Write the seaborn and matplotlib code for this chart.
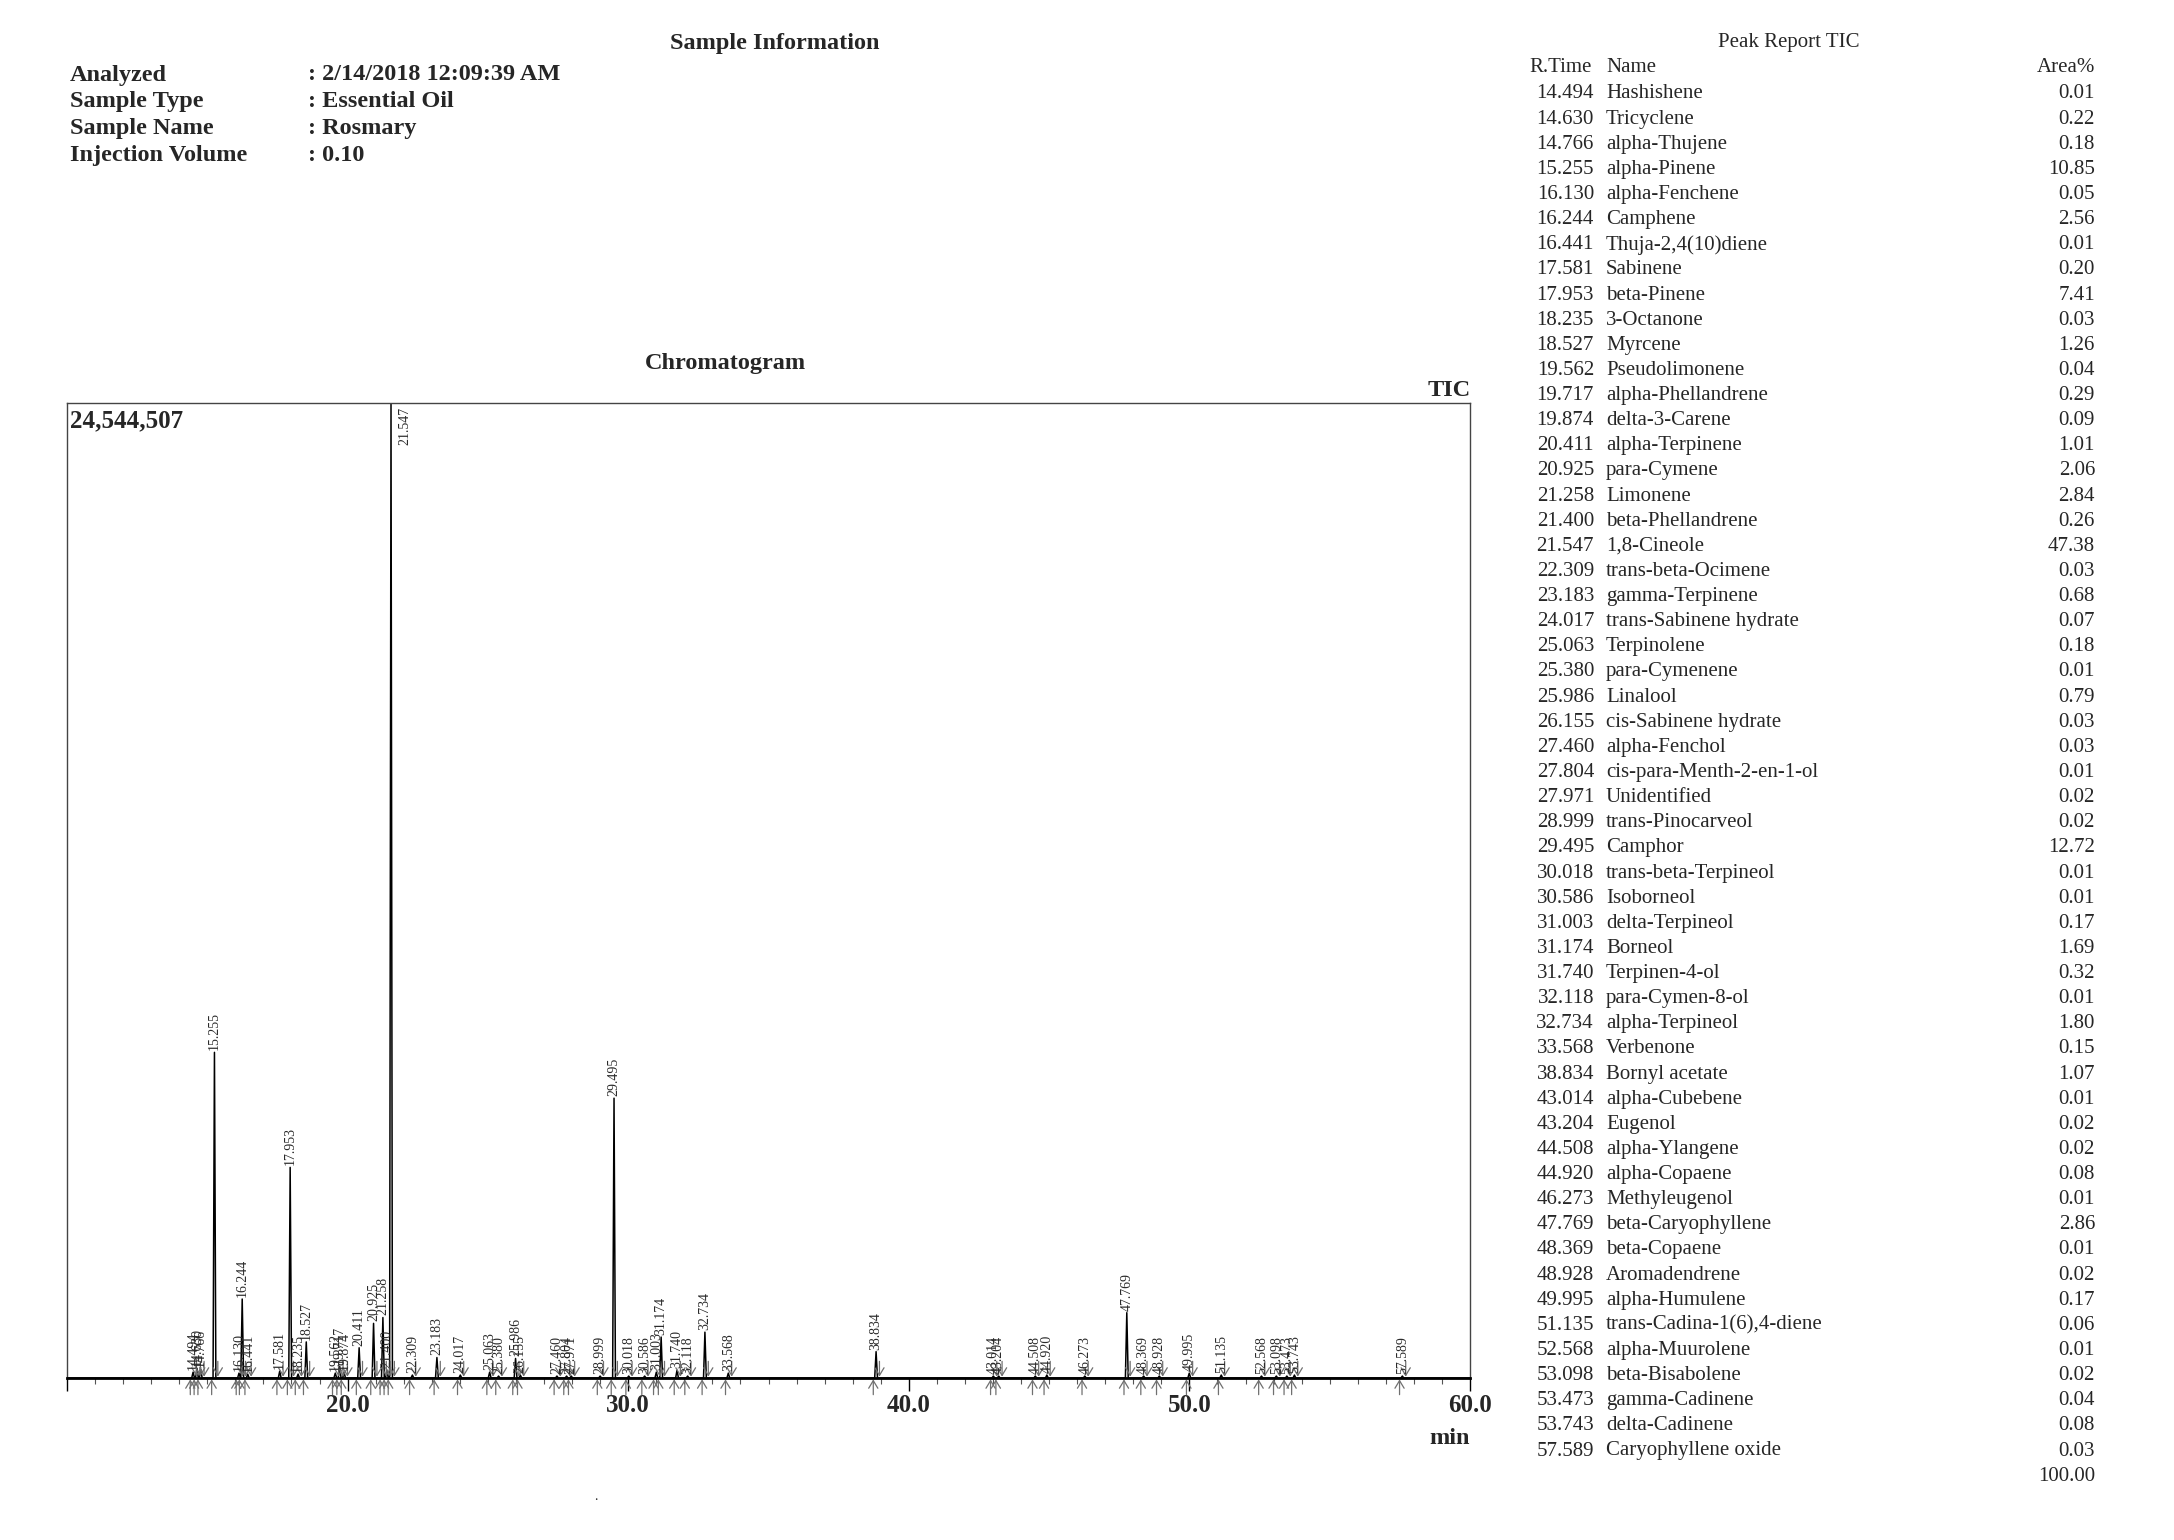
import matplotlib
matplotlib.use("Agg")
import matplotlib.pyplot as plt
from matplotlib.ticker import MultipleLocator
import pandas as pd
import seaborn as sns

sns.set_style("white")
plt.rcParams["font.family"] = ["Liberation Serif", "DejaVu Serif"]

W, H = 2174, 1540

info_labels = ["Analyzed", "Sample Type", "Sample Name", "Injection Volume"]
info_values = [": 2/14/2018 12:09:39 AM", ": Essential Oil", ": Rosmary", ": 0.10"]

rtimes = [14.494, 14.630, 14.766, 15.255, 16.130, 16.244, 16.441, 17.581, 17.953,
          18.235, 18.527, 19.562, 19.717, 19.874, 20.411, 20.925, 21.258, 21.400,
          21.547, 22.309, 23.183, 24.017, 25.063, 25.380, 25.986, 26.155, 27.460,
          27.804, 27.971, 28.999, 29.495, 30.018, 30.586, 31.003, 31.174, 31.740,
          32.118, 32.734, 33.568, 38.834, 43.014, 43.204, 44.508, 44.920, 46.273,
          47.769, 48.369, 48.928, 49.995, 51.135, 52.568, 53.098, 53.473, 53.743,
          57.589]

names = ["Hashishene", "Tricyclene", "alpha-Thujene", "alpha-Pinene", "alpha-Fenchene",
         "Camphene", "Thuja-2,4(10)diene", "Sabinene", "beta-Pinene", "3-Octanone",
         "Myrcene", "Pseudolimonene", "alpha-Phellandrene", "delta-3-Carene",
         "alpha-Terpinene", "para-Cymene", "Limonene", "beta-Phellandrene", "1,8-Cineole",
         "trans-beta-Ocimene", "gamma-Terpinene", "trans-Sabinene hydrate", "Terpinolene",
         "para-Cymenene", "Linalool", "cis-Sabinene hydrate", "alpha-Fenchol",
         "cis-para-Menth-2-en-1-ol", "Unidentified", "trans-Pinocarveol", "Camphor",
         "trans-beta-Terpineol", "Isoborneol", "delta-Terpineol", "Borneol", "Terpinen-4-ol",
         "para-Cymen-8-ol", "alpha-Terpineol", "Verbenone", "Bornyl acetate",
         "alpha-Cubebene", "Eugenol", "alpha-Ylangene", "alpha-Copaene", "Methyleugenol",
         "beta-Caryophyllene", "beta-Copaene", "Aromadendrene", "alpha-Humulene",
         "trans-Cadina-1(6),4-diene", "alpha-Muurolene", "beta-Bisabolene",
         "gamma-Cadinene", "delta-Cadinene", "Caryophyllene oxide"]

areas = ["0.01", "0.22", "0.18", "10.85", "0.05", "2.56", "0.01", "0.20", "7.41", "0.03",
         "1.26", "0.04", "0.29", "0.09", "1.01", "2.06", "2.84", "0.26", "47.38", "0.03",
         "0.68", "0.07", "0.18", "0.01", "0.79", "0.03", "0.03", "0.01", "0.02", "0.02",
         "12.72", "0.01", "0.01", "0.17", "1.69", "0.32", "0.01", "1.80", "0.15", "1.07",
         "0.01", "0.02", "0.02", "0.08", "0.01", "2.86", "0.01", "0.02", "0.17", "0.06",
         "0.01", "0.02", "0.04", "0.08", "0.03"]
area_total = "100.00"

# peak heights (counts)
heights = [147000, 245000, 221000, 8198000, 123000, 1988000, 98000, 172000, 5302000,
           98000, 908000, 123000, 295000, 147000, 761000, 1375000, 1522000, 196000,
           24544507, 74000, 515000, 74000, 147000, 49000, 491000, 74000, 49000,
           49000, 49000, 49000, 7044000, 49000, 49000, 147000, 1031000, 196000,
           49000, 1154000, 123000, 663000, 49000, 49000, 49000, 74000, 49000,
           1644000, 49000, 49000, 123000, 74000, 49000, 49000, 49000, 74000,
           49000]
y_max = 24544507

# build the trace
half_w = 0.05
xs, ys = [10.0], [0]
for rt, h in zip(rtimes, heights):
    xs += [rt - half_w, rt, rt + half_w]
    ys += [0, min(h, y_max), 0]
xs.append(60.0)
ys.append(0)
sig = pd.DataFrame({"min": xs, "tic": ys})

fig = plt.figure(figsize=(W / 100, H / 100), dpi=100)


def fx(x):
    return x / W


def fy(y):
    return 1 - y / H


ax = fig.add_axes([fx(67), fy(1378), fx(1470) - fx(67), fy(403) - fy(1378)])
sns.lineplot(data=sig, x="min", y="tic", color="black", lw=1.1,
             estimator=None, sort=False, ax=ax)
ax.set_xlim(10, 60)
ax.set_ylim(0, y_max)
ax.set_xlabel("")
ax.set_ylabel("")
ax.set_yticks([])
ax.set_xticks([10, 20, 30, 40, 50, 60])
ax.set_xticklabels(["", "20.0", "30.0", "40.0", "50.0", "60.0"],
                   fontsize=18, fontweight="bold")
ax.xaxis.set_minor_locator(MultipleLocator(1))
ax.tick_params(axis="x", which="major", direction="out", length=9.5, width=1,
               color="black", pad=2, bottom=True)
ax.tick_params(axis="x", which="minor", direction="out", length=4.5, width=0.8,
               color="#555555", bottom=True)
for s in ["left", "right", "top"]:
    ax.spines[s].set_color("#444444")
    ax.spines[s].set_linewidth(1.0)
ax.spines["bottom"].set_color("black")
ax.spines["bottom"].set_linewidth(2.0)

# peak start / end markers and retention time labels
arrow_style = dict(arrowstyle="->,head_length=0.5,head_width=0.3", color="#707070",
                   lw=0.9, shrinkA=0, shrinkB=1, mutation_scale=11)
for rt, h in zip(rtimes, heights):
    ax.annotate("", xy=(rt - 0.1, 0), xytext=(0, -12), textcoords="offset points",
                annotation_clip=False, arrowprops=arrow_style)
    ax.annotate("", xy=(rt + 0.12, 0), xytext=(0, 12), textcoords="offset points",
                annotation_clip=False, arrowprops=arrow_style)
    if h >= y_max:
        ax.annotate(f"{rt:.3f}", xy=(rt, y_max), xytext=(10, -3),
                    textcoords="offset points", rotation=90, ha="center", va="top",
                    fontsize=10, color="#2a2a2a")
    else:
        ax.annotate(f"{rt:.3f}", xy=(rt, h), xytext=(0, 1.5),
                    textcoords="offset points", rotation=90, ha="center",
                    va="bottom", fontsize=10, color="#2a2a2a")

# headings
fig.text(fx(775), fy(43), "Sample Information", ha="center", va="center",
         fontsize=17.5, fontweight="bold")
for i, (lab, val) in enumerate(zip(info_labels, info_values)):
    y = 75 + i * 26.7
    fig.text(fx(70), fy(y), lab, ha="left", va="center", fontsize=17.5, fontweight="bold")
    fig.text(fx(308), fy(y), val, ha="left", va="center", fontsize=17.5, fontweight="bold")

fig.text(fx(725), fy(364), "Chromatogram", ha="center", va="center",
         fontsize=17.5, fontweight="bold")
fig.text(fx(1471), fy(391), "TIC", ha="right", va="center",
         fontsize=17.5, fontweight="bold")
fig.text(fx(70), fy(421), "24,544,507", ha="left", va="center",
         fontsize=18, fontweight="bold")
fig.text(fx(1470), fy(1438), "min", ha="right", va="center",
         fontsize=17.5, fontweight="bold")
fig.text(fx(596), fy(1496), ".", ha="center", va="center", fontsize=10)

# peak report table
tx = -17
fig.text(fx(1806 + tx), fy(43), "Peak Report TIC", ha="center", va="center", fontsize=15)
fig.text(fx(1546 + tx), fy(68), "R.Time", ha="left", va="center", fontsize=15)
fig.text(fx(1623 + tx), fy(68), "Name", ha="left", va="center", fontsize=15)
fig.text(fx(2095), fy(68), "Area%", ha="right", va="center", fontsize=15)
row_dy = (1450 - 93) / (len(rtimes) - 1)
for i, (rt, nm, ar) in enumerate(zip(rtimes, names, areas)):
    y = 94 + i * row_dy
    fig.text(fx(1611 + tx), fy(y), f"{rt:.3f}", ha="right", va="center", fontsize=15)
    fig.text(fx(1623 + tx), fy(y), nm, ha="left", va="center", fontsize=15)
    fig.text(fx(2095), fy(y), ar, ha="right", va="center", fontsize=15)
fig.text(fx(2095), fy(94 + len(rtimes) * row_dy), area_total, ha="right",
         va="center", fontsize=15)

fig.savefig("out.png", dpi=100)
